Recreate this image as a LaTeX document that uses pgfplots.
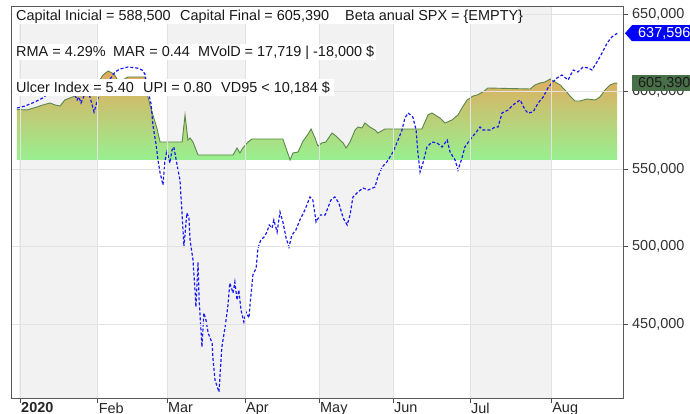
\documentclass[border=0pt]{standalone}
\usepackage{pgfplots}
\usepackage{pgfplotstable}
\pgfplotsset{compat=1.18}
\usepackage{fontspec}
\setmainfont{Liberation Sans}

\definecolor{eqline}{RGB}{90,135,75}
\definecolor{eqtop}{RGB}{229,168,92}
\definecolor{eqbot}{RGB}{152,240,144}
\definecolor{spx}{RGB}{25,25,245}
\definecolor{band}{RGB}{242,242,242}
\definecolor{gridc}{RGB}{226,226,226}
\definecolor{lblgreen}{RGB}{72,112,72}
\definecolor{lblblue}{RGB}{0,0,255}

\newcommand{\lbl}{\fontsize{14.5}{17}\selectfont}

% equity curve (trading-day index, capital)
\pgfplotstableread{
x y
-0.55 588500
2.2 588150
5.0 590080
6.6 591370
8.6 592660
10.0 591370
11.4 590720
12.7 594590
14.1 595880
15.5 597170
16.9 602320
19.7 605550
22.4 607480
23.3 610700
24.7 613280
26.3 611340
27.7 606190
30.2 609410
34.9 609410
35.7 597170
36.3 591370
37.1 584930
38.2 576550
39.1 567530
45.2 567530
46.0 584930
46.8 568820
47.4 570110
48.2 567530
49.6 559150
59.3 559150
60.4 563660
61.2 560440
62.0 563660
63.2 566890
64.5 569460
73.1 569460
75.1 555930
75.9 560440
77.3 561090
78.7 568180
80.1 572680
80.9 575910
82.0 570110
82.8 564950
83.9 566890
85.0 567530
86.7 573330
87.8 571400
88.9 568820
89.8 566890
90.6 563660
91.7 567530
93.1 575260
93.9 577190
95.0 576550
95.8 579770
97.2 577190
98.6 575260
99.4 573330
101.4 575910
111.6 575910
113.3 584930
114.4 586220
116.6 583000
118.0 579770
119.9 581700
121.6 584930
122.7 589440
124.1 594590
125.8 597170
126.9 597810
128.5 599750
129.9 602320
141.6 601680
142.9 604250
144.3 605540
145.7 606190
147.1 608120
148.5 606190
149.9 604250
151.5 600390
152.6 597170
154.0 593950
155.4 593950
157.3 595230
159.6 594590
160.9 596520
162.3 601030
163.7 604250
165.1 605540
165.7 605390
}\equity

% benchmark SPX, scaled to capital
\pgfplotstableread{
x y
-0.55 589430
1.7 590720
4.4 593300
6.6 595880
8.6 599750
11.4 602320
13.6 601030
15.5 597810
16.1 594590
16.6 596520
17.2 592660
18.0 597170
19.1 601030
19.9 594590
20.8 586860
21.6 593300
22.4 599750
24.7 606190
26.6 612630
28.0 614560
30.2 615850
32.7 615210
34.1 613920
34.9 611340
35.7 601030
36.6 592010
37.1 578480
38.0 565590
38.5 555930
39.1 547550
39.9 539820
40.4 554640
41.0 562380
41.8 554000
42.4 562380
42.9 564310
43.8 552710
44.6 543050
45.2 520490
45.7 499880
46.5 521780
47.1 518560
47.4 504390
48.2 491500
48.8 470240
49.0 461220
49.6 490210
49.9 465730
50.7 435450
51.2 457350
51.8 452840
52.4 444470
53.5 438020
53.7 429000
54.3 414180
55.4 406450
55.7 417400
56.2 435450
57.1 448330
57.9 462510
58.4 476680
59.3 470240
59.8 477330
60.4 465730
60.9 472170
61.5 459280
62.3 451550
62.9 457990
63.7 454140
64.0 462510
64.8 481840
65.7 486350
66.2 499230
67.0 504390
67.9 506320
68.7 509540
69.3 514050
70.1 512120
70.6 517270
71.5 509540
72.3 522430
73.1 515990
74.0 505680
74.8 499880
75.6 507610
76.7 510830
77.8 517270
79.2 523720
80.6 532090
81.4 530160
82.3 515990
83.4 520490
84.8 520490
86.4 530160
87.5 532090
88.6 528220
89.8 518560
90.9 514050
91.7 520490
92.5 532090
93.9 535310
95.3 537890
96.7 536600
98.6 538530
99.4 544980
100.6 551420
101.9 554640
103.6 561090
105.0 568820
106.1 575260
106.9 582990
107.8 586220
109.1 583640
110.0 575260
110.5 560440
111.1 548200
111.9 554000
113.0 564310
114.4 567530
115.8 566890
117.2 564310
118.6 568820
119.4 561090
120.8 555930
121.6 549490
122.7 557220
123.5 564310
124.9 568820
126.9 574620
127.7 577190
128.5 575260
130.5 575260
131.9 577190
132.7 577190
133.8 586220
135.5 588150
136.8 591370
138.8 594590
140.2 588150
141.0 586220
142.4 586860
143.8 592660
145.2 596520
146.5 602320
147.6 605540
149.0 608760
150.4 610700
152.1 607480
153.5 613920
154.8 612630
156.2 615850
157.6 615210
158.7 613920
160.1 619070
161.5 624870
162.9 631320
164.2 635180
165.7 637596
}\spx

\begin{document}
\lbl
\begin{tikzpicture}[font=\lbl]
\useasboundingbox (-11bp,-16bp) rectangle (679bp,398bp);
\fill[white] (-11bp,-16bp) rectangle (679bp,398bp);
\begin{axis}[
    at={(0,0)}, anchor=south west,
    scale only axis,
    width=612bp, height=391bp,
    xmin=-2.2, xmax=167.3,
    ymin=402580, ymax=654510,
    axis on top,
    axis line style={black!65, line width=1bp},
    grid=major,
    major grid style={gridc, line width=0.7bp},
    tick style={black!70, line width=0.8bp},
    major tick length=5bp,
    tick align=outside,
    xtick pos=left, ytick pos=right,
    yticklabel pos=right,
    tick label style={font=\lbl},
    xtick={0.3,21.8,41,62.6,83.1,103.6,124.9,147.4},
    xticklabels={\textbf{2020},Feb,Mar,Apr,May,Jun,Jul,Aug},
    xticklabel style={anchor=north west, inner sep=0pt, xshift=1bp, yshift=0.5bp, text=black!85},
    ytick={450000,500000,550000,600000,650000},
    scaled y ticks=false,
    yticklabel style={anchor=west, inner sep=0pt, xshift=4bp, text=black!80,
      /pgf/number format/fixed, /pgf/number format/1000 sep={,},
      /pgf/number format/assume math mode=true},
  ]
  % alternating month bands
  \fill[band] (axis cs:0,402580) rectangle (axis cs:21.8,654510);
  \fill[band] (axis cs:41,402580) rectangle (axis cs:62.6,654510);
  \fill[band] (axis cs:83.1,402580) rectangle (axis cs:103.6,654510);
  \fill[band] (axis cs:124.9,402580) rectangle (axis cs:147.4,654510);

  % equity area down to its lowest value
  \addplot[draw=none, top color=eqtop, bottom color=eqbot]
    table {\equity} |- (axis cs:-0.55,555930) -- cycle;
  \addplot[eqline, line width=0.9bp] table {\equity};
  \addplot[spx, line width=1.2bp, dash pattern=on 3bp off 2bp] table {\spx};

  \coordinate (lab1) at (axis cs:167.3,637596);
  \coordinate (lab2) at (axis cs:167.3,605390);
\end{axis}

% statistics block
\fill[white] (2bp,374bp) rectangle (507bp,391bp);
\fill[white] (2bp,338bp) rectangle (365bp,354bp);
\fill[white] (2bp,302bp) rectangle (323bp,319bp);
\begin{scope}[every node/.style={anchor=base west, inner sep=0pt, text=black!90, font=\lbl}]
  \node at (5bp,377bp) {Capital Inicial = 588,500};
  \node at (169bp,377bp) {Capital Final = 605,390};
  \node at (334bp,377bp) {Beta anual SPX = \{EMPTY\}};
  \node at (5bp,341bp) {RMA = 4.29\%};
  \node at (102bp,341bp) {MAR = 0.44};
  \node at (187bp,341bp) {MVolD = 17,719 | -18,000 \$};
  \node at (5bp,305bp) {Ulcer Index = 5.40};
  \node at (132bp,305bp) {UPI = 0.80};
  \node at (210bp,305bp) {VD95 < 10,184 \$};
\end{scope}

% last-value labels
\fill[lblblue] ([xshift=2bp]lab1) -- ([xshift=9bp,yshift=8bp]lab1) -- ([xshift=80bp,yshift=8bp]lab1)
  -- ([xshift=80bp,yshift=-8bp]lab1) -- ([xshift=9bp,yshift=-8bp]lab1) -- cycle;
\node[anchor=west, inner sep=0pt, text=white, font=\lbl] at ([xshift=15bp]lab1) {637,596};
\fill[lblgreen] ([xshift=9bp,yshift=-8bp]lab2) rectangle ([xshift=80bp,yshift=8bp]lab2);
\node[anchor=west, inner sep=0pt, text=black!90, font=\lbl] at ([xshift=15bp]lab2) {605,390};
\end{tikzpicture}
\end{document}
